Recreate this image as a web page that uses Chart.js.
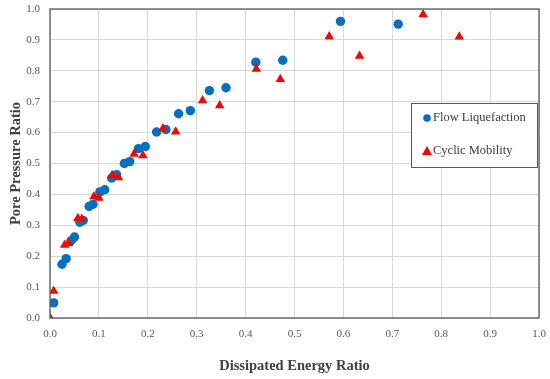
<!DOCTYPE html>
<html>
<head>
<meta charset="utf-8">
<script src="https://cdn.jsdelivr.net/npm/chart.js@4"></script>
<style>
  html, body { margin: 0; padding: 0; background: #fff; }
  #wrap { width: 550px; height: 379px; }
</style>
</head>
<body>
<div id="wrap"><canvas id="chart" width="550" height="379"></canvas></div>
<script>
// data
const flowX = [0.0075, 0.0245, 0.033, 0.043, 0.050, 0.061, 0.068, 0.080, 0.088, 0.102, 0.112, 0.126, 0.136, 0.152, 0.163, 0.181, 0.195, 0.218, 0.237, 0.263, 0.287, 0.326, 0.360, 0.421, 0.476, 0.594, 0.712];
const flowY = [0.049, 0.174, 0.192, 0.250, 0.262, 0.310, 0.316, 0.361, 0.368, 0.408, 0.415, 0.453, 0.464, 0.500, 0.506, 0.548, 0.555, 0.602, 0.610, 0.661, 0.671, 0.736, 0.745, 0.828, 0.834, 0.960, 0.951];

const cyclicX = [0.0, 0.0075, 0.030, 0.038, 0.057, 0.065, 0.090, 0.100, 0.127, 0.140, 0.172, 0.190, 0.231, 0.257, 0.312, 0.347, 0.422, 0.471, 0.571, 0.633, 0.763, 0.837];
const cyclicY = [0.001, 0.087, 0.236, 0.242, 0.323, 0.320, 0.393, 0.388, 0.462, 0.455, 0.531, 0.526, 0.613, 0.603, 0.704, 0.688, 0.806, 0.773, 0.911, 0.848, 0.982, 0.910];

const tickLabels = ["0.0", "0.1", "0.2", "0.3", "0.4", "0.5", "0.6", "0.7", "0.8", "0.9", "1.0"];

const toPoints = (xs, ys) => xs.map((x, i) => ({ x: x, y: ys[i] }));

const serif = "'Liberation Serif', 'DejaVu Serif', serif";

// box round the plot area
const frame = {
    id: "frame",
    afterDatasetsDraw(chart) {
        const { ctx, chartArea: a } = chart;
        ctx.save();
        ctx.strokeStyle = "#595959";
        ctx.lineWidth = 1.3;
        ctx.strokeRect(a.left, a.top, a.right - a.left, a.bottom - a.top);
        ctx.restore();
    }
};

// legend box inside the plot
const boxLegend = {
    id: "boxLegend",
    afterDraw(chart) {
        const { ctx, chartArea: a } = chart;
        const x0 = a.right - 128, y0 = a.top + 94, w = 126, h = 64;
        ctx.save();
        ctx.fillStyle = "#fff";
        ctx.fillRect(x0, y0, w, h);
        ctx.strokeStyle = "#595959";
        ctx.lineWidth = 1;
        ctx.strokeRect(x0 + 0.5, y0 + 0.5, w, h);
        ctx.font = "12.5px " + serif;
        ctx.textBaseline = "middle";
        const items = [chart.data.datasets[1], chart.data.datasets[0]];
        items.forEach((ds, i) => {
            const cy = y0 + 15 + i * 33;
            ctx.fillStyle = ds.backgroundColor;
            ctx.beginPath();
            if (ds.pointStyle === "triangle") {
                ctx.moveTo(x0 + 16, cy - 5); ctx.lineTo(x0 + 21, cy + 4); ctx.lineTo(x0 + 11, cy + 4);
            } else {
                ctx.arc(x0 + 16, cy, 3.8, 0, Math.PI * 2);
            }
            ctx.fill();
            ctx.fillStyle = "#404040";
            ctx.fillText(ds.label, x0 + 22, cy);
        });
        ctx.restore();
    }
};

new Chart(document.getElementById("chart"), {
    type: "scatter",
    data: {
        datasets: [
            {
                label: "Cyclic Mobility",
                data: toPoints(cyclicX, cyclicY),
                pointStyle: "triangle",
                pointRadius: 5.5,
                backgroundColor: "#FF0000",
                borderColor: "#FF0000",
                borderWidth: 0,
                order: 0
            },
            {
                label: "Flow Liquefaction",
                data: toPoints(flowX, flowY),
                pointStyle: "circle",
                pointRadius: 4.7,
                backgroundColor: "#0070C0",
                borderColor: "#0070C0",
                borderWidth: 0,
                order: 1
            }
        ]
    },
    plugins: [frame, boxLegend],
    options: {
        responsive: false,
        animation: false,
        layout: { padding: { top: 9, right: 11, left: 0, bottom: 4 } },
        plugins: {
            legend: { display: false },
            tooltip: { enabled: false }
        },
        scales: {
            x: {
                type: "linear",
                min: 0, max: 1,
                afterFit: (s) => { s.height = 57; s.paddingLeft = 0; s.paddingRight = 0; },
                ticks: {
                    stepSize: 0.1,
                    padding: 10,
                    color: "#595959",
                    font: { family: serif, size: 11 },
                    callback: (v, i) => tickLabels[i]
                },
                grid: { color: "#d9d9d9", drawTicks: false },
                border: { display: false },
                title: {
                    display: true,
                    text: "Dissipated Energy Ratio",
                    color: "#404040",
                    font: { family: serif, size: 14.5, weight: "bold" },
                    padding: { top: 0, bottom: 0 }
                }
            },
            y: {
                type: "linear",
                min: 0, max: 1,
                afterFit: (s) => { s.width = 50; s.paddingTop = 0; s.paddingBottom = 0; },
                ticks: {
                    stepSize: 0.1,
                    padding: 10,
                    color: "#595959",
                    font: { family: serif, size: 11 },
                    callback: (v, i) => tickLabels[i]
                },
                grid: { color: "#d9d9d9", drawTicks: false },
                border: { display: false },
                title: {
                    display: true,
                    text: "Pore Pressure Ratio",
                    color: "#404040",
                    font: { family: serif, size: 14.5, weight: "bold" },
                    padding: { top: 8, bottom: 0 }
                }
            }
        }
    }
});
</script>
</body>
</html>
